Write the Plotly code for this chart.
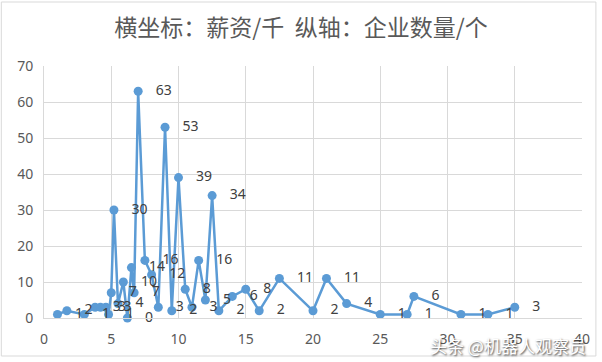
import plotly.graph_objects as go

salary_k = [1, 1.7, 3, 3.8, 4.2, 4.6, 4.8, 5, 5.2, 5.5, 5.9, 6.2, 6.5, 6.7, 7, 7.5,
            8, 8.5, 9, 9.5, 10, 10.5, 11, 11.5, 12, 12.5, 13, 14, 15, 16, 17.5,
            20, 21, 22.5, 25, 27, 27.5, 31, 33, 35]
companies = [1, 2, 1, 3, 3, 3, 1, 7, 30, 4, 10, 0, 14, 7, 63, 16,
             12, 3, 53, 2, 39, 8, 3, 16, 5, 34, 2, 6, 8, 2, 11,
             2, 11, 4, 1, 1, 6, 1, 1, 3]

title_text = "横坐标：薪资/千\u00a0\u00a0纵轴：企业数量/个"
watermark = "头条 @机器人观察员"

W, H = 602, 362
L, R, T, B = 44, 16, 66, 44
pw = W - L - R
ph = H - T - B

fig = go.Figure()
fig.add_trace(go.Scatter(
    x=salary_k, y=companies,
    mode="lines+markers+text",
    line=dict(color="#5b9bd5", width=2.5),
    marker=dict(color="#5b9bd5", size=9),
    text=companies,
    texttemplate="\u00a0\u00a0\u00a0%{text}",
    textposition="middle right",
    textfont=dict(family="Noto Sans, sans-serif", size=14, color="#404040"),
    cliponaxis=False,
    hoverinfo="x+y",
))

fig.update_layout(
    width=W, height=H,
    margin=dict(l=L, r=R, t=T, b=B, pad=0),
    paper_bgcolor="white", plot_bgcolor="white",
    showlegend=False,
    title=dict(text=title_text, x=0.5, xanchor="center", y=1 - 28 / H, yanchor="middle",
               font=dict(family="Noto Sans CJK SC", size=23, color="#595959")),
    xaxis=dict(range=[0, 40], dtick=5, tick0=0, showgrid=True, gridcolor="#d9d9d9",
               gridwidth=1, zeroline=False, showline=True, linecolor="#d9d9d9",
               mirror=False, ticks="", ticklabelstandoff=8,
               tickfont=dict(family="Noto Sans, sans-serif", size=14, color="#595959")),
    yaxis=dict(range=[0, 70], dtick=10, tick0=0, showgrid=True, gridcolor="#d9d9d9",
               gridwidth=1, zeroline=False, showline=True, linecolor="#d9d9d9",
               ticks="", ticklabelstandoff=7,
               tickfont=dict(family="Noto Sans, sans-serif", size=14, color="#595959")),
)

# outer chart border
fig.add_shape(type="rect", xref="paper", yref="paper",
              x0=(1 - L) / pw, x1=(W - 2 - L) / pw,
              y0=-(H - 6 - T - ph) / ph, y1=1 + (T - 2) / ph,
              line=dict(color="#d9d9d9", width=1), layer="below")

fig.add_annotation(text=watermark, xref="paper", yref="paper",
                   x=(592 - L) / pw, y=-(345 - T - ph) / ph, xanchor="right", yanchor="middle",
                   showarrow=False,
                   font=dict(family="Noto Sans CJK SC", size=17, color="white",
                             shadow="1px 1px 2px #333333"))

fig.write_html("out.html", config={"displayModeBar": False},
               post_script="document.body.style.margin='0';document.body.style.overflow='hidden';")
